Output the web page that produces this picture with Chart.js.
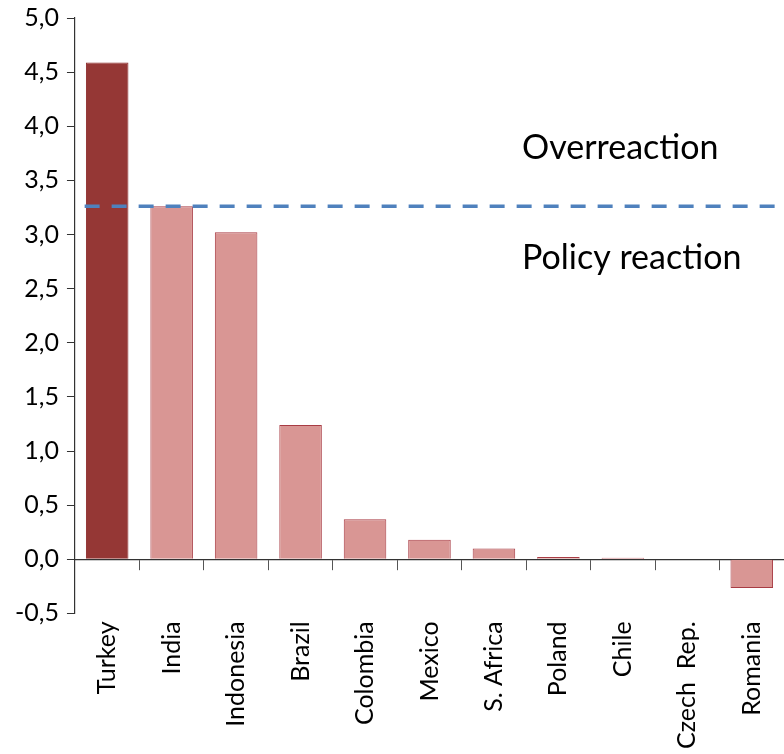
<!DOCTYPE html>
<html>
<head>
<meta charset="utf-8">
<script src="https://cdn.jsdelivr.net/npm/chart.js@4/dist/chart.umd.min.js"></script>
<style>
  html, body { margin: 0; padding: 0; background: #fff; overflow: hidden; }
  #wrap { width: 784px; height: 759px; margin-top: -5px; }
</style>
</head>
<body>
<div id="wrap"><canvas id="chart"></canvas></div>
<script>
//Chart data
const countries = ['Turkey', 'India', 'Indonesia', 'Brazil', 'Colombia', 'Mexico', 'S. Africa', 'Poland', 'Chile', 'Czech  Rep.', 'Romania'];
const values = [4.59, 3.26, 3.02, 1.24, 0.37, 0.18, 0.10, 0.02, 0.015, 0.005, -0.265];
const threshold = 3.26;
const yTicks = [-0.5, 0, 0.5, 1, 1.5, 2, 2.5, 3, 3.5, 4, 4.5, 5];
const zoneLabels = ['Overreaction', 'Policy reaction'];
const zoneLabelValues = [3.80, 2.78];

const fontFamily = 'Lato, "Open Sans", sans-serif';

//Turkey is highlighted in dark red
const fillColors = countries.map((c, i) => i === 0 ? '#953735' : '#d99694');
const borderColors = countries.map((c, i) => i === 0 ? '#8c2a2a' : '#a83c44');

//Text labels above and below the dashed line
const zoneText = {
    id: 'zoneText',
    afterDatasetsDraw(chart) {
        const ctx = chart.ctx;
        const y = chart.scales.y;
        ctx.save();
        ctx.fillStyle = '#000';
        ctx.font = '34px ' + fontFamily;
        ctx.textAlign = 'left';
        ctx.textBaseline = 'middle';
        zoneLabels.forEach((t, i) => {
            ctx.fillText(t, 522, y.getPixelForValue(zoneLabelValues[i]));
        });
        ctx.restore();
    }
};

const ctx = document.getElementById('chart').getContext('2d');

const myChart = new Chart(ctx, {
    type: 'bar',
    data: {
        labels: countries,
        datasets: [{
            type: 'bar',
            data: values,
            backgroundColor: fillColors,
            borderColor: borderColors,
            borderWidth: 1,
            grouped: false,
            barPercentage: 0.66,
            categoryPercentage: 1,
            xAxisID: 'x',
            order: 2
        }, {
            type: 'line',
            data: [{x: -0.35, y: threshold}, {x: 10.6, y: threshold}],
            borderColor: '#4f81bd',
            borderWidth: 3.5,
            borderDash: [15, 12],
            pointRadius: 0,
            fill: false,
            xAxisID: 'xl',
            order: 1
        }]
    },
    options: {
        responsive: true,
        maintainAspectRatio: false,
        animation: false,
        layout: {
            padding: {top: 0, right: 0, left: 7, bottom: 5}
        },
        scales: {
            x: {
                type: 'category',
                position: 'bottom',
                offset: true,
                grid: {display: false},
                border: {display: false},
                ticks: {
                    color: '#000',
                    maxRotation: 90,
                    minRotation: 90,
                    padding: 0,
                    autoSkip: false,
                    font: {size: 25, family: fontFamily}
                }
            },
            //axis line with tick marks sitting at zero
            xz: {
                type: 'category',
                labels: countries,
                position: {y: 0},
                offset: true,
                grid: {
                    offset: true,
                    drawOnChartArea: false,
                    tickLength: 10,
                    color: '#555'
                },
                border: {color: '#333', width: 1.2},
                ticks: {display: false}
            },
            xl: {
                type: 'linear',
                min: -0.5,
                max: 10.5,
                offset: false,
                display: false
            },
            y: {
                min: -0.5,
                max: 5,
                afterBuildTicks: (axis) => {
                    axis.ticks = yTicks.map(v => ({value: v}));
                },
                grid: {
                    drawOnChartArea: false,
                    tickLength: 8,
                    color: '#333'
                },
                border: {color: '#333', width: 1.2},
                ticks: {
                    color: '#000',
                    padding: 8,
                    font: {size: 25, family: fontFamily},
                    callback: (v) => v.toFixed(1).replace('.', ',')
                }
            }
        },
        plugins: {
            legend: {display: false},
            tooltip: {enabled: false}
        }
    },
    plugins: [zoneText]
});
</script>
</body>
</html>
